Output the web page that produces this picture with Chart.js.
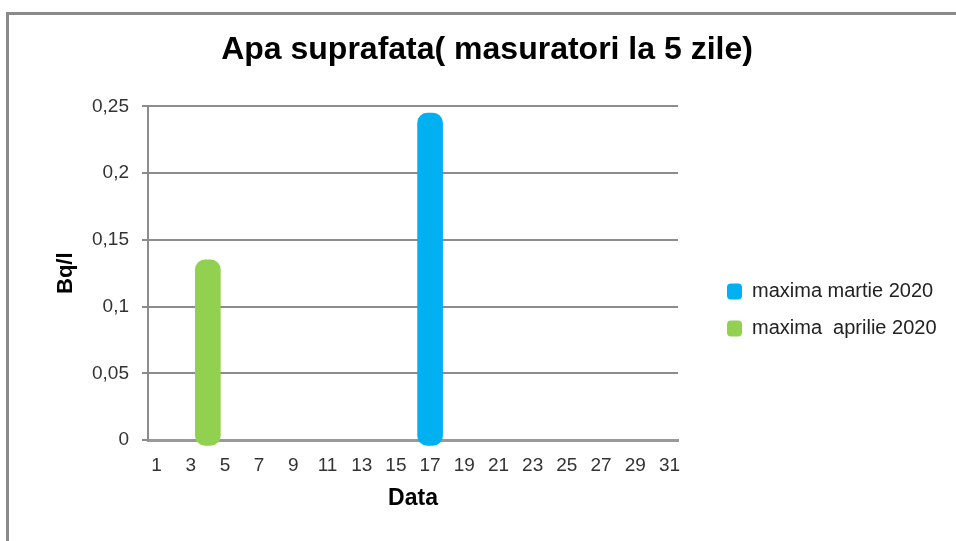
<!DOCTYPE html>
<html>
<head>
<meta charset="utf-8">
<title>Apa suprafata</title>
<script src="https://cdn.jsdelivr.net/npm/chart.js@4.4.0/dist/chart.umd.min.js"></script>
<style>
  html, body { margin: 0; padding: 0; background: #fff; overflow: hidden; }
  #frame {
    position: absolute; left: 6px; top: 12px; width: 980px; height: 560px;
    border-top: 3px solid #8a8a8a; border-left: 3px solid #8a8a8a;
  }
  #wrap { position: absolute; left: 0; top: 0; width: 956px; height: 541px; }
</style>
</head>
<body>
<div id="frame"></div>
<div id="wrap"><canvas id="chart"></canvas></div>
<script>
// days of the month (category axis)
const days = [
    1, 2, 3, 4, 5, 6, 7, 8, 9, 10, 11, 12, 13, 14, 15, 16,
    17, 18, 19, 20, 21, 22, 23, 24, 25, 26, 27, 28, 29, 30, 31
];

// Bq/l, only one reading per month is shown
const maximaMartie = [
    null, null, null, null, null, null, null, null, null, null, null,
    null, null, null, null, null, 0.245, null, null, null, null, null,
    null, null, null, null, null, null, null, null, null
];
const maximaAprilie = [
    null, null, null, 0.135, null, null, null, null, null, null, null,
    null, null, null, null, null, null, null, null, null, null, null,
    null, null, null, null, null, null, null, null, null
];

const seriesNames = ["maxima martie 2020", "maxima  aprilie 2020"];
const seriesColors = ["#00b0f0", "#92d050"];
const yTicks = [0, 0.05, 0.1, 0.15, 0.2, 0.25];

const title = "Apa suprafata( masuratori la 5 zile)";
const fontFamily = "'Liberation Sans', Arial, sans-serif";

// excel puts the legend in the free space on the right and centres
// the title on the whole frame, so move both after layout
const placeBoxes = {
    id: "placeBoxes",
    afterLayout(chart) {
        const lg = chart.legend;
        lg.left = chart.chartArea.right + 32;
        lg.right = lg.left + 240;
        lg.top = chart.chartArea.top + 158;
        lg.bottom = lg.top + 200;

        const tb = chart.titleBlock;
        tb.left = 0;
        tb.right = chart.width + 18;
    }
};

const bar = (label, data, color) => ({
    label,
    data,
    backgroundColor: color,
    borderColor: color,
    borderWidth: 0,
    borderRadius: 10,
    borderSkipped: false,
    barThickness: 25,
    grouped: false,
    base: -0.004,
    clip: false
});

const datasets = [
    bar(seriesNames[0], maximaMartie, seriesColors[0]),
    bar(seriesNames[1], maximaAprilie, seriesColors[1])
];

new Chart(document.getElementById("chart"), {
    type: "bar",
    data: { labels: days, datasets },
    plugins: [placeBoxes],
    options: {
        responsive: true,
        maintainAspectRatio: false,
        animation: false,
        layout: { padding: { left: 0, top: 0, right: 248, bottom: 0 } },
        plugins: {
            title: {
                display: true,
                text: title,
                color: "#000",
                font: { family: fontFamily, size: 32, weight: "bold" },
                padding: { top: 31, bottom: 37 }
            },
            legend: {
                display: true,
                position: "right",
                align: "start",
                maxWidth: 30,
                labels: {
                    color: "#222",
                    font: { family: fontFamily, size: 20 },
                    boxWidth: 15,
                    boxHeight: 16,
                    padding: 17,
                    useBorderRadius: true,
                    borderRadius: 4
                }
            },
            tooltip: { enabled: false }
        },
        scales: {
            x: {
                offset: true,
                afterFit: (scale) => { scale.height = 101; },
                grid: { display: false, drawTicks: false },
                border: { display: true, color: "#999", width: 3 },
                ticks: {
                    autoSkip: false,
                    maxRotation: 0,
                    padding: 14,
                    color: "#333",
                    font: { family: fontFamily, size: 19 },
                    callback: function (value, index) {
                        return index % 2 === 0 ? days[index] : "";
                    }
                },
                title: {
                    display: true,
                    text: "Data",
                    color: "#000",
                    font: { family: fontFamily, size: 23, weight: "bold" },
                    padding: { top: 0, bottom: 29 }
                }
            },
            y: {
                min: 0,
                max: 0.25,
                afterFit: (scale) => { scale.width = 148; },
                afterBuildTicks: (scale) => {
                    scale.ticks = yTicks.map((v) => ({ value: v }));
                },
                grid: { color: "#8c8c8c", lineWidth: 2, tickLength: 6 },
                border: { display: true, color: "#8c8c8c", width: 2 },
                ticks: {
                    padding: 13,
                    color: "#333",
                    font: { family: fontFamily, size: 19 },
                    callback: (value) => String(Number(value.toFixed(2))).replace(".", ",")
                },
                title: {
                    display: true,
                    text: "Bq/l",
                    color: "#000",
                    font: { family: fontFamily, size: 22, weight: "bold" },
                    padding: { top: 53, bottom: 0 }
                }
            }
        }
    }
});
</script>
</body>
</html>
